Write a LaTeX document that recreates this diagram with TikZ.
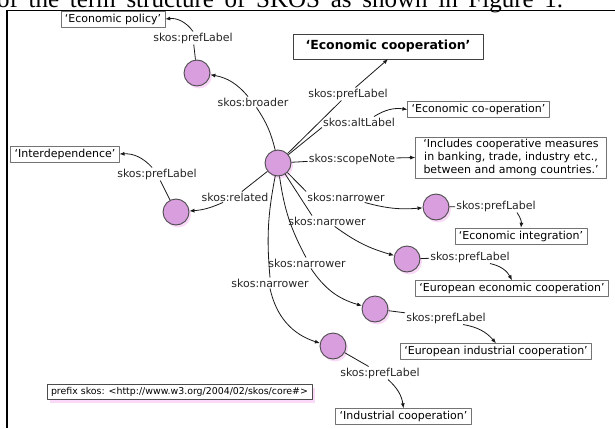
\documentclass[tikz,border=0pt]{standalone}
\usepackage{fontspec}
\setmainfont{DejaVu Sans}
\newfontfamily\capfont{Liberation Serif}
\usetikzlibrary{arrows.meta}
\usetikzlibrary{shadows}
\definecolor{conceptfill}{RGB}{216,158,222}
\definecolor{shadowpink}{RGB}{250,218,248}

\begin{document}
\begin{tikzpicture}[x=1pt, y=-1pt, line join=round,
  every node/.style={font=\fontsize{11}{13}\selectfont},
  concept/.style={circle, draw=black!70, line width=0.9pt, fill=conceptfill, minimum size=26pt, inner sep=0pt,
    drop shadow={shadow xshift=2pt, shadow yshift=-2.5pt, fill=shadowpink, opacity=1}},
  literal/.style={draw=black!55, fill=white, inner xsep=4pt, inner ysep=0pt, minimum height=16pt},
  prop/.style={inner sep=1pt, text=black!85},
  rel/.style={draw=black!90, line width=0.8pt},
  relto/.style={rel, -{Latex[length=5pt, width=4pt]}}]
  \useasboundingbox (0,0) rectangle (615,428);
  \draw[line width=1pt] (7,11) -- (615,11);
  \draw[line width=2.5pt] (7,10.5) -- (7,428);
  \node[anchor=base west, inner sep=0pt, font=\capfont\fontsize{25}{25}\selectfont] (caption) at (-3,7.5)
    {\makebox[566pt][s]{of the term structure of SKOS as shown in Figure 1.}};

  \node[concept] (econ) at (278,163) {};
  \node[concept] (broad) at (197,73) {};
  \node[concept] (relat) at (176,212) {};
  \node[concept] (narA) at (436,207) {};
  \node[concept] (narB) at (407,259) {};
  \node[concept] (narC) at (375,309) {};
  \node[concept] (narD) at (333,346) {};

  \node[literal] (policy) at (113,19) {‘Economic policy’};
  \node[literal] (interdep) at (65,154) {‘Interdependence’};
  \node[literal, draw=black!75, font=\bfseries\fontsize{12.5}{14}\selectfont, minimum width=190pt, minimum height=25pt] (pref) at (388,46.5) {‘Economic cooperation’};
  \node[literal] (alt) at (478.5,109.5) {‘Economic co-operation’};
  \node[literal, align=center, inner xsep=8pt, minimum height=41pt] (note) at (511,157.5)
    {‘Includes cooperative measures\\in banking, trade, industry etc.,\\between and among countries.’};
  \node[literal] (integ) at (521,236) {‘Economic integration’};
  \node[literal] (euecon) at (512,288.5) {‘European economic cooperation’};
  \node[literal] (euind) at (496,351.5) {‘European industrial cooperation’};
  \node[literal] (indcoop) at (403.5,416.5) {‘Industrial cooperation’};
  \node[literal, draw=black!70, font=\fontsize{9.4}{11}\selectfont, minimum height=15pt,
    drop shadow={shadow xshift=3pt, shadow yshift=-3pt, fill=shadowpink, opacity=1}] (prefix) at (179.5,392)
    {prefix skos: <http://www.w3.org/2004/02/skos/core\#>};

  \node[prop] (lbroadpref) at (193,38) {skos:prefLabel};
  \node[prop] (lbroader) at (253,102) {skos:broader};
  \node[prop] (lrelated) at (235,197) {skos:related};
  \node[prop] (lrelatpref) at (157,174) {skos:prefLabel};
  \node[prop] (lpref) at (348,94) {skos:prefLabel};
  \node[prop] (lalt) at (359,122) {skos:altLabel};
  \node[prop] (lnote) at (352,159) {skos:scopeNote};
  \node[prop] (lnarA) at (346,197) {skos:narrower};
  \node[prop] (lnarB) at (327,221) {skos:narrower};
  \node[prop] (lnarC) at (307,263) {skos:narrower};
  \node[prop] (lnarD) at (270,283) {skos:narrower};
  \node[prop] (lprefA) at (496,206) {skos:prefLabel};
  \node[prop] (lprefB) at (470,257) {skos:prefLabel};
  \node[prop] (lprefC) at (446,318) {skos:prefLabel};
  \node[prop] (lprefD) at (380,373) {skos:prefLabel};

  \draw[rel] (broad) -- (lbroadpref);
  \draw[relto] (lbroadpref.north) to[bend right=30] (policy.east);
  \draw[rel] (econ) to[bend right=10] (lbroader);
  \draw[relto] (lbroader) to[bend right=20] (broad);
  \draw[rel] (econ) -- (lrelated);
  \draw[relto] (lrelated) to[bend left=10] (relat);
  \draw[rel] (relat) -- (lrelatpref);
  \draw[relto] (lrelatpref) to[bend right=25] (interdep.east);
  \draw[rel] (econ) -- (lpref);
  \draw[relto] (lpref) -- (pref.south);
  \draw[rel] (econ) -- (lalt.south west);
  \draw[relto] (lalt.20) to[bend left=20] (alt.west);
  \draw[rel] (econ) -- (lnote);
  \draw[relto] (lnote) -- (note.west);
  \draw[rel] (econ) -- (lnarA.north west);
  \draw[relto] (lnarA) to[bend right=10] (narA);
  \draw[rel] (econ) -- (lnarB.160);
  \draw[relto] (lnarB) to[bend right=10] (narB);
  \draw[rel] (econ) to[bend right=10] (lnarC.100);
  \draw[relto] (lnarC) to[bend right=20] (narC);
  \draw[rel] (econ) to[bend right=8] (lnarD.north);
  \draw[relto] (lnarD.south) to[bend right=30] (narD);
  \draw[rel] (narA) -- (lprefA);
  \draw[relto] ([xshift=21pt]lprefA.south) to[bend left=20] (integ.north);
  \draw[rel] (narB) -- (lprefB);
  \draw[relto] ([xshift=20pt]lprefB.south) to[bend left=25] (euecon.north);
  \draw[rel] (narC) -- (lprefC);
  \draw[relto] ([xshift=17pt]lprefC.south) to[bend left=20] (euind.north);
  \draw[rel] (narD) -- (lprefD);
  \draw[relto] ([xshift=8pt]lprefD.south) to[bend left=20] (indcoop.north);
\end{tikzpicture}
\end{document}
